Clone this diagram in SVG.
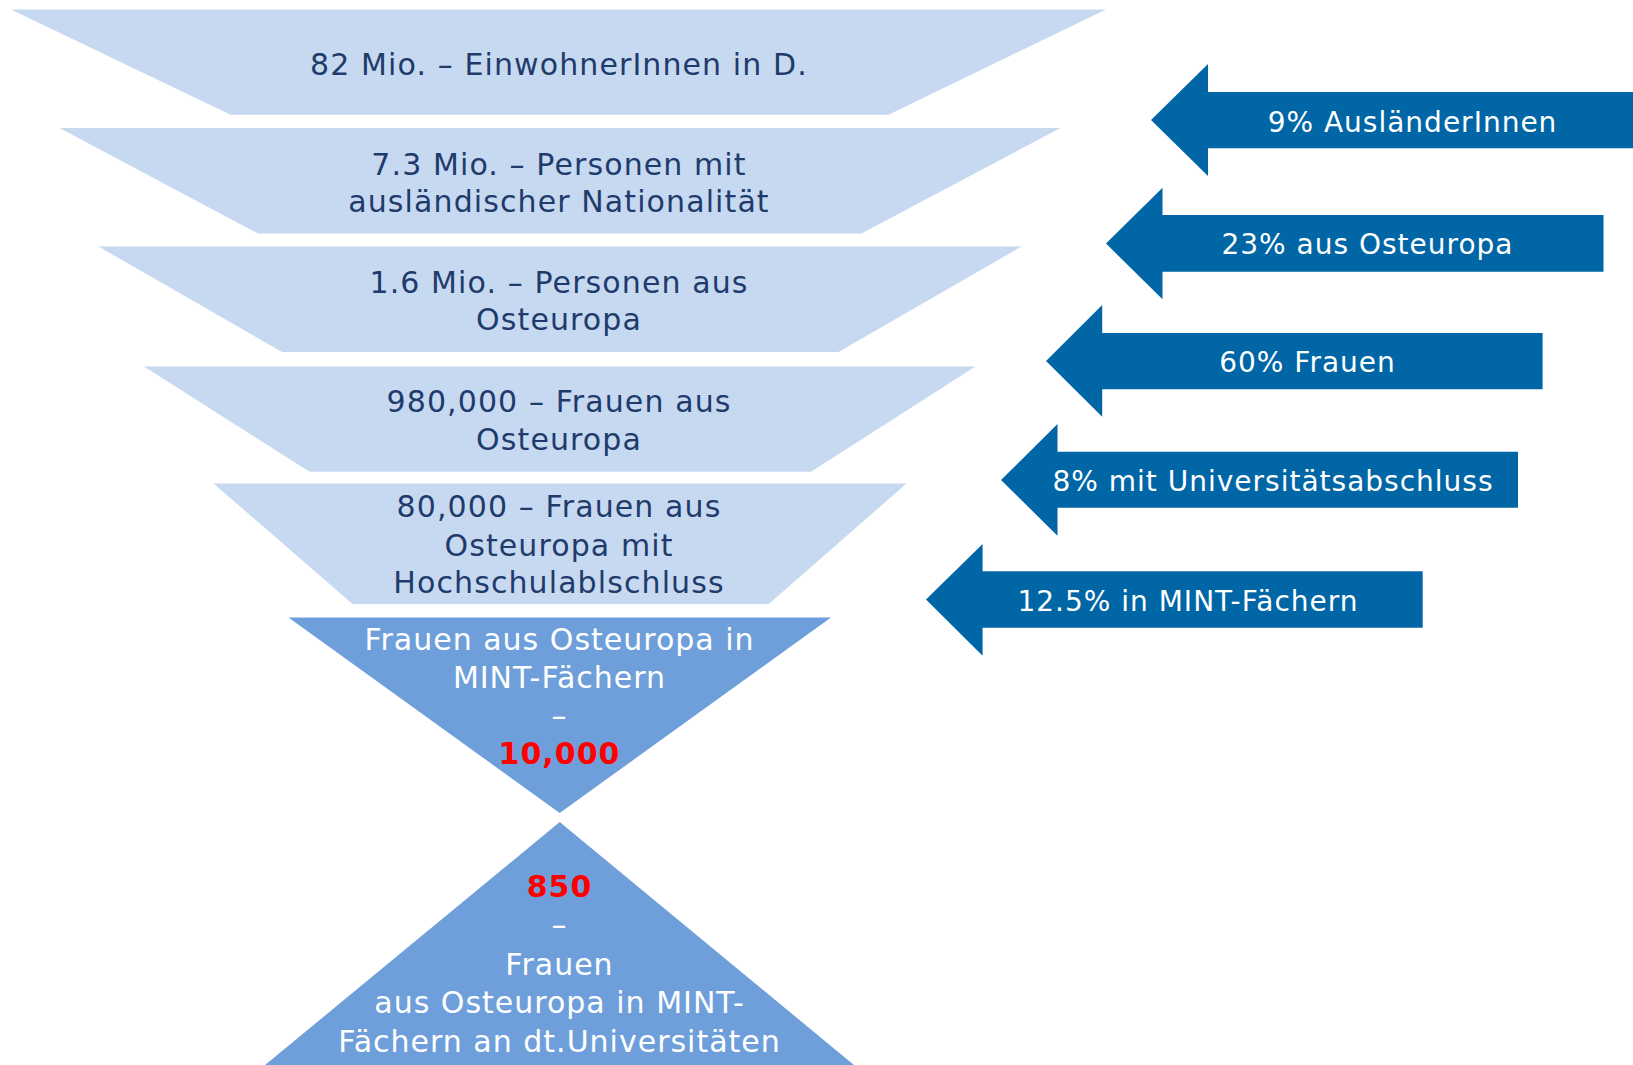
<svg xmlns="http://www.w3.org/2000/svg" width="1633" height="1065" viewBox="0 0 1633 1065">
<style>
.trap{fill:#C6D9F1}
.tri{fill:#6E9FDB}
.arr{fill:#0066A6}
text{font-family:"DejaVu Sans","Noto Sans",sans-serif;text-anchor:middle}
.dk{fill:#1F3B6B;font-size:30px;letter-spacing:1.1px}
.wt{fill:#FFFFFF;font-size:30px;letter-spacing:1px}
.rd{fill:#FF0000;font-size:30px;font-weight:bold;letter-spacing:1px}
.at{fill:#FFFFFF;font-size:28px;letter-spacing:1px}
</style>
<rect width="1633" height="1065" fill="#FFFFFF"/>
<g id="level1">
<polygon class="trap" points="11,9.5 1106,9.5 888.5,114.8 230.5,114.8"/>
<text class="dk" x="559" y="75">82 Mio. – EinwohnerInnen in D.</text>
</g>
<g id="level2">
<polygon class="trap" points="59.5,128 1060.5,128 861.5,233.5 258,233.5"/>
<text class="dk" x="559" y="175">7.3 Mio. – Personen mit</text>
<text class="dk" x="559" y="212">ausländischer Nationalität</text>
</g>
<g id="level3">
<polygon class="trap" points="98.5,246.5 1021.5,246.5 838.5,352 282,352"/>
<text class="dk" x="559" y="292.5">1.6 Mio. – Personen aus</text>
<text class="dk" x="559" y="330">Osteuropa</text>
</g>
<g id="level4">
<polygon class="trap" points="144,366.5 975.5,366.5 811,471.8 309.5,471.8"/>
<text class="dk" x="559" y="411.5">980,000 – Frauen aus</text>
<text class="dk" x="559" y="450">Osteuropa</text>
</g>
<g id="level5">
<polygon class="trap" points="213.5,483.5 906.5,483.5 768.8,604 352.5,604"/>
<text class="dk" x="559" y="517">80,000 – Frauen aus</text>
<text class="dk" x="559" y="555.5">Osteuropa mit</text>
<text class="dk" x="559" y="593">Hochschulablschluss</text>
</g>
<g id="level6">
<polygon class="tri" points="288.5,617.5 831,617.5 559.7,813"/>
<text class="wt" x="559.5" y="650">Frauen aus Osteuropa in</text>
<text class="wt" x="559.5" y="688">MINT-Fächern</text>
<text class="wt" x="559.5" y="726">–</text>
<text class="rd" x="559.5" y="764">10,000</text>
</g>
<g id="level7">
<polygon class="tri" points="559.7,822 860,1070 259,1070"/>
<text class="rd" x="559.5" y="897">850</text>
<text class="wt" x="559.5" y="935">–</text>
<text class="wt" x="559.5" y="975">Frauen</text>
<text class="wt" x="559.5" y="1013">aus Osteuropa in MINT-</text>
<text class="wt" x="559.5" y="1051.5">Fächern an dt.Universitäten</text>
</g>
<g id="arrow1">
<polygon class="arr" points="1151,120 1208,64 1208,92 1640,92 1640,148.3 1208,148.3 1208,176"/>
<text class="at" x="1412.5" y="131.5">9% AusländerInnen</text>
</g>
<g id="arrow2">
<polygon class="arr" points="1106,243.5 1162.5,187.7 1162.5,215 1603.5,215 1603.5,271.7 1162.5,271.7 1162.5,299.3"/>
<text class="at" x="1367.5" y="254">23% aus Osteuropa</text>
</g>
<g id="arrow3">
<polygon class="arr" points="1046,361 1102.2,305 1102.2,333 1542.6,333 1542.6,389.3 1102.2,389.3 1102.2,416.7"/>
<text class="at" x="1307.5" y="371.7">60% Frauen</text>
</g>
<g id="arrow4">
<polygon class="arr" points="1001,480 1057.5,424 1057.5,451.7 1518,451.7 1518,507.7 1057.5,507.7 1057.5,535.7"/>
<text class="at" x="1273" y="491">8% mit Universitätsabschluss</text>
</g>
<g id="arrow5">
<polygon class="arr" points="926,599.5 982.6,544 982.6,571.3 1422.7,571.3 1422.7,627.7 982.6,627.7 982.6,655.7"/>
<text class="at" x="1188" y="611">12.5% in MINT-Fächern</text>
</g>
</svg>
